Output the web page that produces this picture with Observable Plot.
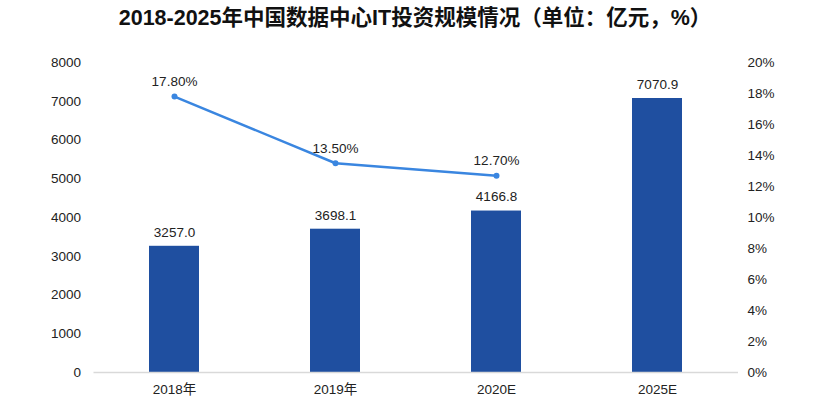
<!DOCTYPE html>
<html><head><meta charset="utf-8">
<script src="https://cdn.jsdelivr.net/npm/d3@7"></script>
<script src="https://cdn.jsdelivr.net/npm/@observablehq/plot@0.6"></script>
<style>
body{margin:0;background:#fff;font-family:"Liberation Sans","Noto Sans CJK SC",sans-serif;}
#title{height:40px;line-height:36px;text-align:center;font-family:"Liberation Sans","Noto Sans CJK SC",sans-serif;font-weight:bold;font-size:21.5px;color:#111;}
</style></head>
<body>
<div id="title">2018-2025年中国数据中心IT投资规模情况（单位：亿元，%）</div>
<div id="chart"></div>
<script>
const categories = ["2018年", "2019年", "2020E", "2025E"];
const investment = [3257.0, 3698.1, 4166.8, 7070.9];
const growthCats = ["2018年", "2019年", "2020E"];
const growth = [17.8, 13.5, 12.7];
const leftTicks = [0,1000,2000,3000,4000,5000,6000,7000,8000];
const rightTicks = [0,2,4,6,8,10,12,14,16,18,20];

const factor = 8000 / 20; // percent -> left-axis units
const bars = categories.map((c,i)=>({cat:c, v:investment[i]}));
const line = growthCats.map((c,i)=>({cat:c, g:growth[i], y:growth[i]*factor}));

const font = "Liberation Sans, Noto Sans CJK SC, sans-serif";
const chart = Plot.plot({
  width: 830, height: 374,
  marginTop: 22, marginBottom: 42, marginLeft: 93.5, marginRight: 92,
  style: {fontFamily: font, fontSize: "13.5px", color: "#222", background: "#fff"},
  x: {domain: categories, paddingInner: 0.69, paddingOuter: 0.345, label: null},
  y: {domain: [0, 8000], label: null},
  marks: [
    Plot.barY(bars, {x: "cat", y: "v", fill: "#1f4fa0"}),
    Plot.ruleY([0], {stroke: "#d9d9d9", strokeWidth: 1.5}),
    Plot.text(bars, {x: "cat", y: "v", text: d => d.v.toFixed(1), dy: -14, fill: "#222", fontSize: 13.5}),
    Plot.line(line, {x: "cat", y: "y", stroke: "#3a86e0", strokeWidth: 2.5}),
    Plot.dot(line, {x: "cat", y: "y", r: 3, fill: "#3a86e0"}),
    Plot.text(line, {x: "cat", y: "y", text: d => d.g.toFixed(2) + "%", dy: -15, fill: "#222", fontSize: 13.5}),
    Plot.axisX({tickSize: 0, tickPadding: 12, fontSize: 13.5, fill: "#222"}),
    Plot.axisY({anchor: "left", ticks: leftTicks, tickSize: 0, tickPadding: 13, tickFormat: d => String(d), fontSize: 13.5, fill: "#222"}),
    Plot.axisY({anchor: "right", ticks: rightTicks.map(t => t*factor), tickSize: 0, tickPadding: 9, tickFormat: d => Math.round(d/factor) + "%", fontSize: 13.5, fill: "#222"})
  ]
});
document.getElementById("chart").appendChild(chart);
</script>
</body></html>
